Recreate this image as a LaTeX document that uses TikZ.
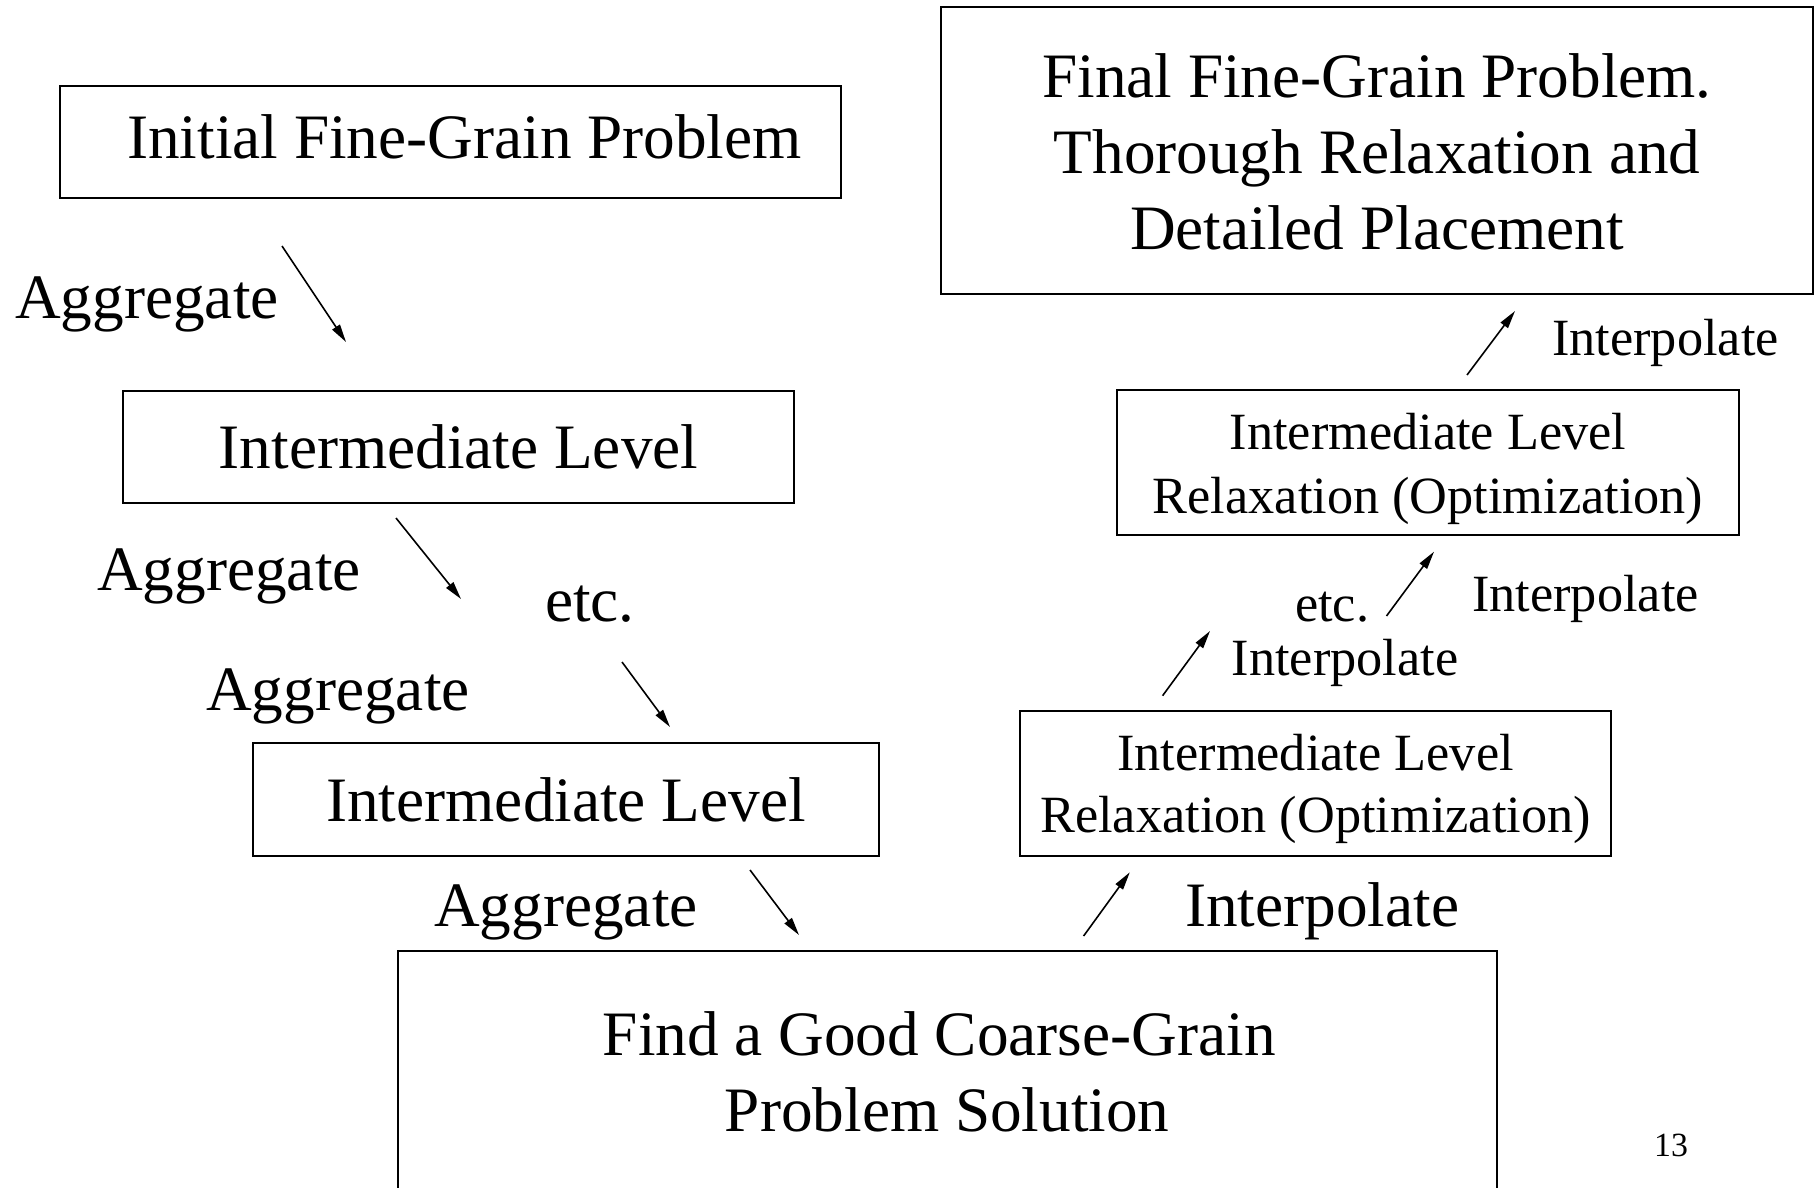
\documentclass[tikz,border=0pt]{standalone}
\usepackage{fontspec}
\setmainfont{Liberation Serif}
\usetikzlibrary{arrows.meta}

\tikzset{
  big/.style={font=\fontsize{63.5}{76.5}\selectfont},
  small/.style={font=\fontsize{52.5}{64.5}\selectfont},
  pagenum/.style={font=\fontsize{34}{40}\selectfont},
  box/.style={draw, line width=2bp, inner sep=0pt, align=center, text depth=0pt},
  lbl/.style={inner sep=0pt, anchor=base west},
  flow/.style={line width=1.6bp, -{Triangle[length=18bp,width=9bp]}}
}

\begin{document}
\begin{tikzpicture}[x=1bp, y=-1bp]
  \path[use as bounding box] (0,0) rectangle (1817,1187);
  \fill[white] (0,0) rectangle (1817,1187);
  \clip (0,0) rectangle (1817,1187);

  % left column: aggregation down to the coarse level
  \node[box, big, minimum width=783, minimum height=112, text height=33]
    (fine) at (450.5,142) {\hspace*{28bp}Initial Fine-Grain Problem};
  \node[box, big, minimum width=673, minimum height=112, text height=43]
    (midA) at (458.5,447) {Intermediate Level};
  \node[box, big, minimum width=628, minimum height=113, text height=44]
    (midB) at (566,799.5) {Intermediate Level};

  % coarse level
  \node[box, big, minimum width=1103, minimum height=248, text height=114]
    (coarse) at (947.3,1075) {Find a Good Coarse-Grain\hspace*{16bp}\\Problem Solution};

  % right column: interpolation back up
  \node[box, small, minimum width=593, minimum height=145, text height=99,
        font=\fontsize{52.5}{63}\selectfont]
    (relaxB) at (1315.5,783.5) {Intermediate Level\\Relaxation (Optimization)};
  \node[box, small, minimum width=624, minimum height=145, text height=103,
        font=\fontsize{52.5}{65}\selectfont]
    (relaxA) at (1428,462.5) {Intermediate Level\\Relaxation (Optimization)};
  \node[box, big, minimum width=876, minimum height=288, text height=199]
    (final) at (1377,150.5) {Final Fine-Grain Problem.\\Thorough Relaxation and\\Detailed Placement};

  % labels
  \node[lbl, big] (ag1) at (15,318) {Aggregate};
  \node[lbl, big] (ag2) at (97,590) {Aggregate};
  \node[lbl, big] (etcL) at (545,621.7) {etc.};
  \node[lbl, big] (ag3) at (206,710) {Aggregate};
  \node[lbl, big] (ag4) at (434,926.7) {Aggregate};
  \node[lbl, big] (ip1) at (1185,926.7) {Interpolate};
  \node[lbl, small] (ip2) at (1231.6,675) {Interpolate};
  \node[lbl, small] (etcR) at (1295,621.7) {etc.};
  \node[lbl, small] (ip3) at (1472,611.7) {Interpolate};
  \node[lbl, small] (ip4) at (1552,355) {Interpolate};
  \node[lbl, pagenum] (page) at (1654,1156.7) {13};

  % arrow end points
  \coordinate (a1s) at (282,246);    \coordinate (a1e) at (346,342);
  \coordinate (a2s) at (396,518);    \coordinate (a2e) at (461,599);
  \coordinate (a3s) at (622,662);    \coordinate (a3e) at (670,727);
  \coordinate (a4s) at (750,870);    \coordinate (a4e) at (799,935);
  \coordinate (i1s) at (1083.6,936); \coordinate (i1e) at (1129.8,872.3);
  \coordinate (i2s) at (1162.6,695.7); \coordinate (i2e) at (1210,631);
  \coordinate (i3s) at (1386.5,616); \coordinate (i3e) at (1434,551.7);
  \coordinate (i4s) at (1467,375);   \coordinate (i4e) at (1515,311);

  \draw[flow] (a1s) -- (a1e);
  \draw[flow] (a2s) -- (a2e);
  \draw[flow] (a3s) -- (a3e);
  \draw[flow] (a4s) -- (a4e);
  \draw[flow] (i1s) -- (i1e);
  \draw[flow] (i2s) -- (i2e);
  \draw[flow] (i3s) -- (i3e);
  \draw[flow] (i4s) -- (i4e);
\end{tikzpicture}
\end{document}
